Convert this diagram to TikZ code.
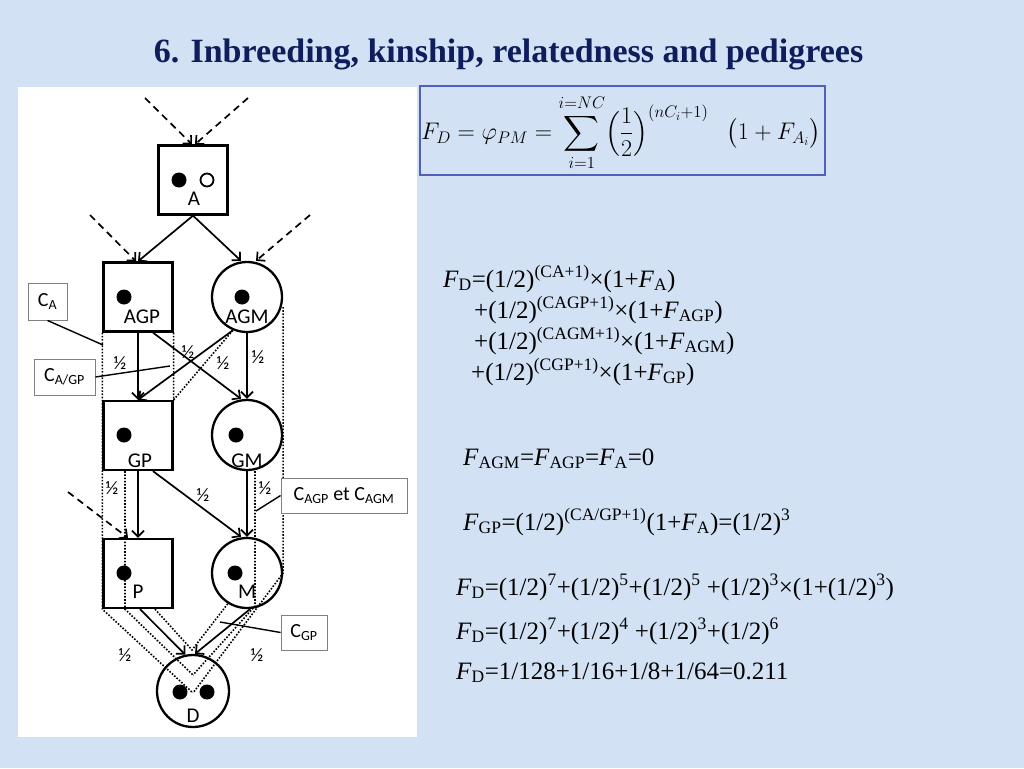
\RequirePackage{fix-cm}
\documentclass[tikz,border=0pt]{standalone}
\usepackage{amsmath}
\usepackage{fontspec}
\setmainfont{Liberation Serif}
\newfontfamily\diagfont{Carlito}
\usetikzlibrary{arrows.meta, calc}
\definecolor{slidebg}{RGB}{210,226,244}
\definecolor{titleblue}{RGB}{14,30,92}
\definecolor{boxblue}{RGB}{78,96,186}

\begin{document}
\begin{tikzpicture}[x=1pt, y=-1pt,
    male/.style={draw, line width=2.3pt, minimum size=69pt, inner sep=0pt},
    female/.style={draw, circle, line width=2.3pt, minimum size=70pt, inner sep=0pt},
    allele/.style={circle, fill=black, minimum size=15pt, inner sep=0pt},
    openallele/.style={circle, draw, line width=1.8pt, minimum size=13pt, inner sep=0pt},
    idtag/.style={font=\diagfont\fontsize{21}{21}\selectfont, inner sep=0pt, anchor=base},
    half/.style={font=\diagfont\fontsize{19}{19}\selectfont, inner sep=0pt},
    gene/.style={-{Straight Barb[length=6pt, width=12pt]}, line width=1.7pt},
    founder/.style={gene, dash pattern=on 7pt off 5pt},
    trail/.style={line width=1.6pt, dash pattern=on 1.6pt off 1.6pt},
    cbox/.style={draw=gray, fill=white, line width=0.9pt, inner sep=0pt,
      font=\diagfont\fontsize{20}{20}\selectfont},
    note/.style={line width=1.4pt},
    formula/.style={font=\fontsize{25}{30}\selectfont, anchor=base west, inner sep=0pt}]

  % slide background and panel
  \fill[slidebg] (0,0) rectangle (1024,768);
  \useasboundingbox (0,0) rectangle (1024,768);
  \fill[white] (18,87) rectangle (417,737);

  \node[font=\bfseries\fontsize{34}{40}\selectfont, text=titleblue, anchor=base, inner sep=0pt]
    (title) at (508.5,63) {6. Inbreeding, kinship, relatedness and pedigrees};

  % pedigree
  \node[male] (A) at (193,180) {};
  \node[male] (AGP) at (138,297) {};
  \node[female] (AGM) at (247,297) {};
  \node[male] (GP) at (138,435.5) {};
  \node[female] (GM) at (247,435) {};
  \node[male] (P) at (138,573.5) {};
  \node[female] (M) at (247,573) {};
  \node[female, minimum size=72pt] (D) at (193,691) {};

  \node[allele] (aA) at (179,180) {};
  \node[openallele] (bA) at (207,180) {};
  \node[allele] (aAGP) at (124,297) {};
  \node[allele] (aAGM) at (242,297) {};
  \node[allele] (aGP) at (124,435) {};
  \node[allele] (aGM) at (236,435) {};
  \node[allele] (aP) at (124,573) {};
  \node[allele] (aM) at (235,573) {};
  \node[allele] (aD) at (180,692) {};
  \node[allele] (bD) at (207,692) {};

  \node[idtag] (nA) at (194,205) {A};
  \node[idtag] (nAGP) at (142,323) {AGP};
  \node[idtag] (nAGM) at (247,323) {AGM};
  \node[idtag] (nGP) at (140,467) {GP};
  \node[idtag] (nGM) at (247,467) {GM};
  \node[idtag] (nP) at (138,598) {P};
  \node[idtag] (nM) at (247,598) {M};
  \node[idtag] (nD) at (193,722) {D};

  % paths of the loops
  \coordinate (vOut) at (193,693);
  \coordinate (vMid) at (193,675);
  \coordinate (vIn) at (192,650);
  \draw[trail] (AGP.south west) -- (P.south west) -- (vOut);
  \draw[trail] ([yshift=-10]AGM.east) -- (M.east) -- (vOut);
  \draw[trail] (AGP.south east) -- (GP.north east) -- (AGM.247);
  \draw[trail] ([xshift=-13]GP.south) -- ([xshift=-13]P.south) -- (vMid);
  \draw[trail] ([xshift=8]GM.south) -- ($(M.center)+(8,33)$) -- (vMid);
  \draw[trail] ([xshift=17]P.south) -- (vIn) -- (M.238);

  % founders
  \coordinate (inA1) at (145,98);
  \coordinate (inA2) at (248,98);
  \coordinate (inAGP) at (90,215);
  \coordinate (inAGM) at (310,215);
  \coordinate (inP) at (68,492);
  \draw[founder] (inA1) -- ([xshift=-1]A.north);
  \draw[founder] (inA2) -- ([xshift=2]A.north);
  \draw[founder] (inAGP) -- ([xshift=-2]AGP.north);
  \draw[founder] (inAGM) -- ([xshift=9]AGM.north);
  \draw[founder] (inP) -- ([xshift=-10]P.north);

  % transmissions
  \draw[gene] (A.south) -- (AGP.north);
  \draw[gene] (A.south) -- ([xshift=-6]AGM.north);
  \draw[gene] (AGP.south) -- (GP.north);
  \draw[gene] ([xshift=15]AGP.south) -- ([xshift=-6]GM.north);
  \draw[gene] (AGM.247) -- (GP.north);
  \draw[gene] (AGM.south) -- (GM.north);
  \draw[gene] (GP.south) -- (P.north);
  \draw[gene] ([xshift=15]GP.south) -- ([xshift=-6]M.north);
  \draw[gene] (GM.south) -- (M.north);
  \draw[gene] ([xshift=2]P.south) -- (D.102);
  \draw[gene] (M.275) -- (D.87);

  \node[half] (h1) at (120,363) {½};
  \node[half] (h2) at (188,352) {½};
  \node[half] (h3) at (223,363) {½};
  \node[half] (h4) at (258,357) {½};
  \node[half] (h5) at (112,488) {½};
  \node[half] (h6) at (203,495) {½};
  \node[half] (h7) at (265,488) {½};
  \node[half] (h8) at (125,655) {½};
  \node[half] (h9) at (257,655) {½};

  % loop labels
  \node[cbox, minimum width=39, minimum height=37] (CA) at (47.5,301.5) {C\textsubscript{A}};
  \node[cbox, minimum width=61, minimum height=36] (CAGP) at (64.5,377) {C\textsubscript{A/GP}};
  \node[cbox, minimum width=126, minimum height=35] (CAGM) at (344,495.5) {C\textsubscript{AGP} et C\textsubscript{AGM}};
  \node[cbox, minimum width=46, minimum height=35] (CGP) at (304,632.5) {C\textsubscript{GP}};
  \coordinate (cAend) at (103,345);
  \coordinate (cAGPend) at (170,366);
  \coordinate (cAGMend) at (256,511);
  \coordinate (cGPend) at (220,622);
  \draw[note] (CA.south) -- (cAend);
  \draw[note] (CAGP.east) -- (cAGPend);
  \draw[note] (CAGM.west) -- (cAGMend);
  \draw[note] (CGP.west) -- (cGPend);

  % formulas
  \node[draw=boxblue, line width=1.2pt, minimum width=405, minimum height=89, inner sep=0pt]
    (sumbox) at (622.5,130.5) {};
  \node[anchor=west, inner sep=0pt] (sum) at (421,133)
    {\fontsize{24}{28}\selectfont$\displaystyle F_D = \varphi_{PM} = \sum_{i=1}^{i=NC\rule[-2pt]{0pt}{2pt}}\Bigl(\frac{1}{2}\Bigr)^{(nC_i+1)}\hspace{18pt}\bigl(1+F_{A_i}\bigr)$};

  \node[formula] (fd1) at (443,287) {\textit{F}\textsubscript{D}=(1/2)\textsuperscript{(CA+1)}×(1+\textit{F}\textsubscript{A})};
  \node[formula] (fd2) at (474,318) {+(1/2)\textsuperscript{(CAGP+1)}×(1+\textit{F}\textsubscript{AGP})};
  \node[formula] (fd3) at (474,349) {+(1/2)\textsuperscript{(CAGM+1)}×(1+\textit{F}\textsubscript{AGM})};
  \node[formula] (fd4) at (471,380) {+(1/2)\textsuperscript{(CGP+1)}×(1+\textit{F}\textsubscript{GP})};
  \node[formula] (fzero) at (463,465) {\textit{F}\textsubscript{AGM}=\textit{F}\textsubscript{AGP}=\textit{F}\textsubscript{A}=0};
  \node[formula] (fgp) at (463,530) {\textit{F}\textsubscript{GP}=(1/2)\textsuperscript{(CA/GP+1)}(1+\textit{F}\textsubscript{A})=(1/2)\textsuperscript{3}};
  \node[formula] (fd5) at (456,595) {\textit{F}\textsubscript{D}=(1/2)\textsuperscript{7}+(1/2)\textsuperscript{5}+(1/2)\textsuperscript{5} +(1/2)\textsuperscript{3}×(1+(1/2)\textsuperscript{3})};
  \node[formula] (fd6) at (456,639) {\textit{F}\textsubscript{D}=(1/2)\textsuperscript{7}+(1/2)\textsuperscript{4} +(1/2)\textsuperscript{3}+(1/2)\textsuperscript{6}};
  \node[formula] (fd7) at (456,679) {\textit{F}\textsubscript{D}=1/128+1/16+1/8+1/64=0.211};
\end{tikzpicture}
\end{document}
